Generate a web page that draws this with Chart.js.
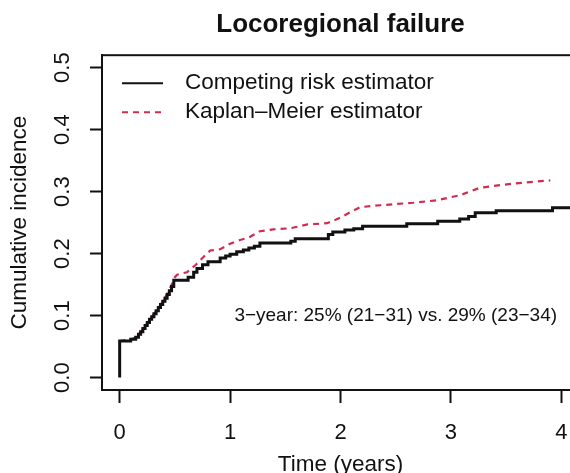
<!DOCTYPE html>
<html>
<head>
<meta charset="utf-8">
<script src="https://cdn.jsdelivr.net/npm/chart.js@4.4.0/dist/chart.umd.min.js"></script>
<style>
  html, body { margin: 0; padding: 0; background: #fff; overflow: hidden; }
  #wrap { width: 570px; height: 473px; overflow: hidden; }
</style>
</head>
<body>
<div id="wrap"><canvas id="chart" width="600" height="480"></canvas></div>
<script>
// Competing risk estimator (step function: value holds from each time on)
const crTimes  = [0, 0, 0.10, 0.145, 0.17, 0.19, 0.21, 0.23, 0.25, 0.27, 0.29, 0.31, 0.33, 0.35, 0.37, 0.39, 0.41, 0.43, 0.45, 0.47, 0.49, 0.62, 0.67, 0.70, 0.75, 0.80, 0.91, 0.96, 1.00, 1.06, 1.12, 1.17, 1.22, 1.27, 1.55, 1.59, 1.89, 1.93, 2.04, 2.12, 2.20, 2.60, 2.88, 3.08, 3.16, 3.22, 3.41, 3.92, 4.16];
const crValues = [0, 0.059, 0.062, 0.065, 0.070, 0.074, 0.079, 0.084, 0.089, 0.094, 0.098, 0.103, 0.108, 0.113, 0.118, 0.123, 0.128, 0.134, 0.140, 0.147, 0.157, 0.162, 0.170, 0.176, 0.182, 0.187, 0.193, 0.196, 0.199, 0.203, 0.206, 0.209, 0.212, 0.217, 0.220, 0.224, 0.231, 0.235, 0.238, 0.240, 0.244, 0.248, 0.252, 0.256, 0.260, 0.266, 0.269, 0.274, 0.274];

// Kaplan-Meier estimator
const kmTimes  = [0, 0.10, 0.145, 0.20, 0.28, 0.37, 0.44, 0.47, 0.50, 0.52, 0.61, 0.69, 0.75, 0.82, 0.91, 1.00, 1.09, 1.17, 1.27, 1.39, 1.55, 1.70, 1.88, 2.00, 2.09, 2.18, 2.36, 2.66, 2.87, 3.00, 3.08, 3.17, 3.26, 3.47, 3.69, 3.90];
const kmValues = [0.059, 0.062, 0.064, 0.076, 0.095, 0.117, 0.138, 0.150, 0.162, 0.166, 0.170, 0.182, 0.193, 0.205, 0.207, 0.216, 0.222, 0.226, 0.236, 0.239, 0.241, 0.247, 0.249, 0.258, 0.267, 0.275, 0.278, 0.282, 0.286, 0.291, 0.294, 0.300, 0.306, 0.311, 0.315, 0.318];

const xTicks = [0, 1, 2, 3, 4];
const yTicks = [0, 0.1, 0.2, 0.3, 0.4, 0.5];
const noteText = '3\u2212year: 25% (21\u221231) vs. 29% (23\u221234)';
const notePos = [2.5, 0.1];

const family = '"Liberation Sans", Arial, sans-serif';
const ink = '#111';
const red = '#d02c50';

const toPoints = (xs, ys) => xs.map((x, i) => ({x: x, y: ys[i]}));

// full frame around the plot region
const boxPlugin = {
    id: 'frame',
    afterDraw(chart) {
        const {ctx, chartArea: a} = chart;
        ctx.save();
        ctx.strokeStyle = ink;
        ctx.lineWidth = 2;
        ctx.strokeRect(a.left, a.top, a.right - a.left, a.bottom - a.top);
        ctx.restore();
    }
};

// legend sitting inside the plot, top-left
const legendPlugin = {
    id: 'insideLegend',
    afterDraw(chart) {
        const {ctx, chartArea} = chart;
        ctx.save();
        ctx.font = `22.5px ${family}`;
        ctx.textBaseline = 'middle';
        ctx.fillStyle = ink;
        chart.data.datasets.forEach((ds, i) => {
            const y = chartArea.top + 28 + i * 29;
            const x0 = chartArea.left + 20;
            ctx.strokeStyle = ds.borderColor;
            ctx.lineWidth = 2;
            ctx.setLineDash(ds.borderDash || []);
            ctx.beginPath();
            ctx.moveTo(x0, y);
            ctx.lineTo(x0 + 41, y);
            ctx.stroke();
            ctx.setLineDash([]);
            ctx.fillText(ds.label, x0 + 63, y);
        });
        ctx.restore();
    }
};

// 3-year estimate note
const notePlugin = {
    id: 'note',
    afterDraw(chart) {
        const {ctx, scales} = chart;
        ctx.save();
        ctx.font = `19px ${family}`;
        ctx.textAlign = 'center';
        ctx.textBaseline = 'middle';
        ctx.fillStyle = ink;
        ctx.fillText(noteText, scales.x.getPixelForValue(notePos[0]), scales.y.getPixelForValue(notePos[1]));
        ctx.restore();
    }
};

const ctx = document.getElementById('chart').getContext('2d');
new Chart(ctx, {
    type: 'line',
    data: {
        datasets: [{
            label: 'Competing risk estimator',
            data: toPoints(crTimes, crValues),
            borderColor: ink,
            borderWidth: 3,
            stepped: true,
            pointRadius: 0,
            fill: false
        }, {
            label: 'Kaplan\u2013Meier estimator',
            data: toPoints(kmTimes, kmValues),
            borderColor: red,
            borderWidth: 2.2,
            borderDash: [6, 5],
            pointRadius: 0,
            tension: 0,
            fill: false
        }]
    },
    options: {
        responsive: false,
        animation: false,
        layout: {
            padding: {left: 0, right: 21, top: 0, bottom: 0}
        },
        plugins: {
            legend: {display: false},
            tooltip: {enabled: false},
            title: {
                display: true,
                fullSize: false,
                text: 'Locoregional failure',
                color: ink,
                font: {family: family, size: 26, weight: 'bold'},
                padding: {top: 9, bottom: 15}
            }
        },
        scales: {
            x: {
                type: 'linear',
                min: -0.16,
                max: 4.16,
                afterFit: s => { s.height = 90; },
                afterBuildTicks: s => { s.ticks = xTicks.map(v => ({value: v})); },
                ticks: {
                    color: ink,
                    font: {family: family, size: 22},
                    padding: 17,
                    maxRotation: 0,
                    callback: v => String(v)
                },
                grid: {drawOnChartArea: false, drawTicks: true, tickLength: 13, tickColor: ink, tickWidth: 2},
                border: {display: true, color: ink, width: 2},
                title: {
                    display: true,
                    text: 'Time (years)',
                    color: ink,
                    font: {family: family, size: 22.5},
                    padding: {top: 0, bottom: 2}
                }
            },
            y: {
                min: -0.02,
                max: 0.52,
                afterFit: s => { s.width = 102; },
                afterBuildTicks: s => { s.ticks = yTicks.map(v => ({value: v})); },
                ticks: {
                    color: ink,
                    font: {family: family, size: 22},
                    minRotation: 90,
                    maxRotation: 90,
                    crossAlign: 'center',
                    padding: 12,
                    callback: v => v.toFixed(1)
                },
                grid: {drawOnChartArea: false, drawTicks: true, tickLength: 12, tickColor: ink, tickWidth: 2},
                border: {display: true, color: ink, width: 2},
                title: {
                    display: true,
                    text: 'Cumulative incidence',
                    color: ink,
                    font: {family: family, size: 22.5},
                    padding: {top: 6, bottom: 0}
                }
            }
        }
    },
    plugins: [boxPlugin, legendPlugin, notePlugin]
});
</script>
</body>
</html>
